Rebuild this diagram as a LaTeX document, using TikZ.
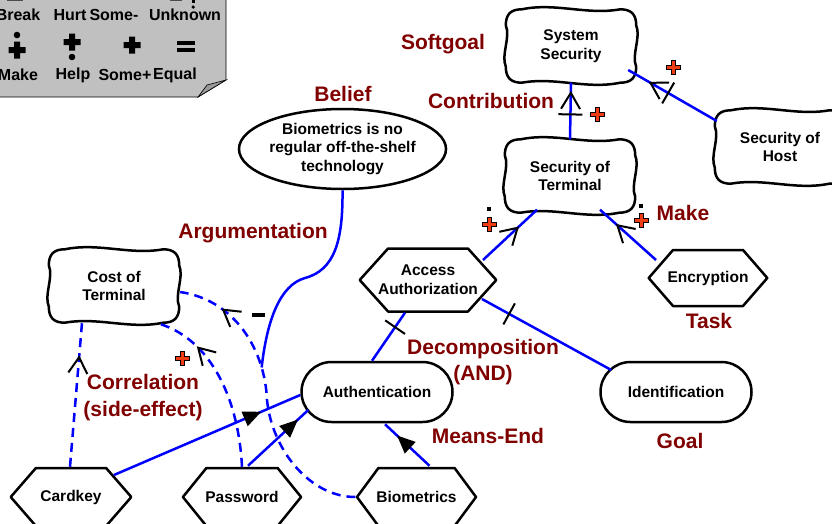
\documentclass[tikz,border=0pt]{standalone}
\usepackage{fontspec}
\setmainfont{Liberation Sans}
\usetikzlibrary{shapes.geometric,shapes.misc,shapes.symbols,arrows.meta,decorations.markings,calc}
\definecolor{labred}{RGB}{128,0,0}
\definecolor{plusred}{RGB}{240,60,20}
\definecolor{leggray}{RGB}{192,192,192}
\definecolor{linkblue}{RGB}{0,0,255}
\newcommand\cloudline[1]{%
 \draw[line width=2.5pt, line join=round, line cap=round]
  ($(#1.north west)+(16,0)$)
  .. controls ($(#1.north west)!.38!(#1.north east)+(0,-7)$) and ($(#1.north west)!.62!(#1.north east)+(0,6)$) .. ($(#1.north east)+(-16,0)$)
  .. controls ($(#1.north east)+(-5,0)$) and ($(#1.north east)+(0,5)$) .. ($(#1.north east)+(0,16)$)
  .. controls ($(#1.north east)!.38!(#1.south east)+(5,0)$) and ($(#1.north east)!.62!(#1.south east)+(-5,0)$) .. ($(#1.south east)+(0,-16)$)
  .. controls ($(#1.south east)+(0,-5)$) and ($(#1.south east)+(-5,0)$) .. ($(#1.south east)+(-16,0)$)
  .. controls ($(#1.south east)!.38!(#1.south west)+(0,7)$) and ($(#1.south east)!.62!(#1.south west)+(0,-6)$) .. ($(#1.south west)+(16,0)$)
  .. controls ($(#1.south west)+(5,0)$) and ($(#1.south west)+(0,-5)$) .. ($(#1.south west)+(0,-16)$)
  .. controls ($(#1.south west)!.38!(#1.north west)+(-5,0)$) and ($(#1.south west)!.62!(#1.north west)+(5,0)$) .. ($(#1.north west)+(0,16)$)
  .. controls ($(#1.north west)+(0,5)$) and ($(#1.north west)+(5,0)$) .. ($(#1.north west)+(16,0)$) -- cycle;}
\tikzset{
 pics/redplus/.style={code={\filldraw[fill=plusred,draw=black,line width=0.7pt]
   (-7,-2) -- (-2,-2) -- (-2,-7) -- (2,-7) -- (2,-2) -- (7,-2) -- (7,2) -- (2,2) -- (2,7) -- (-2,7) -- (-2,2) -- (-7,2) -- cycle;}},
 pics/blackplus/.style={code={\fill[black]
   (-8.5,-3) -- (-3,-3) -- (-3,-8.5) -- (3,-8.5) -- (3,-3) -- (8.5,-3) -- (8.5,3) -- (3,3) -- (3,8.5) -- (-3,8.5) -- (-3,3) -- (-8.5,3) -- cycle;}},
}
\begin{document}
\begin{tikzpicture}[x=1pt,y=-1pt,
  every node/.style={font=\bfseries\fontsize{15.5}{18.6}\selectfont, align=center, inner sep=0pt},
  lab/.style={text=labred, font=\bfseries\fontsize{21}{26}\selectfont},
  leg/.style={font=\bfseries\fontsize{16}{19}\selectfont},
  sg/.style={rectangle, minimum width=130pt, minimum height=73pt},
  hexa/.style={signal, signal to=west and east, draw, line width=2.5pt, line join=round, minimum height=58pt},
  stad/.style={rounded rectangle, draw, line width=2.5pt, minimum width=151pt, minimum height=60pt},
  link/.style={draw=linkblue, line width=2.5pt},
  dlink/.style={link, dash pattern=on 9pt off 6pt},
  chev at/.style={postaction={decorate, decoration={markings, mark=at position #1 with {\draw[black, solid, line width=2pt, line cap=butt, line join=miter] (-16pt,-9.5pt) -- (0pt,0pt) -- (-16pt,9.5pt);}}}},
  bar at/.style={postaction={decorate, decoration={markings, mark=at position #1 with {\draw[black, solid, line width=2pt] (0pt,-12pt) -- (0pt,12pt);}}}},
  tri at/.style={postaction={decorate, decoration={markings, mark=at position #1 with {\fill[black] (0pt,0pt) -- (-18pt,-8pt) -- (-18pt,8pt) -- cycle;}}}},
]
\useasboundingbox (0,0) rectangle (832,523);

% legend
\filldraw[fill=leggray, draw=black, line width=0.8pt] (-5,-5) -- (226,-5) -- (226,80) -- (198,97) -- (-5,97) -- cycle;
\filldraw[fill=gray!80, draw=black, line width=0.6pt] (226,80) -- (198,97) -- (207,85) -- cycle;
\fill[black!70] (7,-1) rectangle (23,1);
\fill[black!70] (170,-1) rectangle (182,1);
\fill[black] (192,-2) rectangle (194.5,3);
\fill[black] (193.2,7) circle (1.8);
\node[leg] (lbreak) at (18,15) {Break};
\node[leg] (lhurt) at (70,15) {Hurt};
\node[leg] (lsomem) at (114,15) {Some-};
\node[leg] (lunk) at (185,15) {Unknown};
\node[leg] (lmake) at (18,75) {Make};
\node[leg] (lhelp) at (73,75) {Help};
\node[leg] (lsomep) at (125,75) {Some+};
\node[leg] (lequal) at (175,75) {Equal};
\fill[black] (17,35) circle (3.3);
\pic at (17,50) {blackplus};
\pic at (72,42) {blackplus};
\fill[black] (72,57) circle (3.3);
\pic at (132,45) {blackplus};
\fill[black] (177,40.5) rectangle (195,45);
\fill[black] (177,47.5) rectangle (195,52);

% nodes
\node[sg] (ss) at (571,46) {System\\Security};
\cloudline{ss}
\node[sg] (sot) at (570,176) {Security of\\Terminal};
\cloudline{sot}
\node[sg] (soh) at (780,147) {Security of\\Host};
\cloudline{soh}
\node[sg] (cot) at (114,286) {Cost of\\Terminal};
\cloudline{cot}
\node[ellipse, draw, line width=2.5pt, minimum width=201pt, minimum height=80pt] (bel) at (342.5,149) {Biometrics is no\\regular off-the-shelf\\technology};
\node[hexa, signal pointer angle=96, inner xsep=-10pt, minimum height=63pt] (aa) at (428,280) {Access\\Authorization};
\node[hexa, signal pointer angle=98, inner xsep=-5.5pt, minimum height=56pt] (enc) at (708,278) {Encryption};
\node[stad] (auth) at (377,392) {Authentication};
\node[stad] (ident) at (676,392) {Identification};
\node[hexa, signal pointer angle=98, inner xsep=4.5pt] (ck) at (71,497) {Cardkey};
\node[hexa, signal pointer angle=102, inner xsep=-1pt] (pw) at (242,497) {Password};
\node[hexa, signal pointer angle=107, inner xsep=-2pt] (bio) at (416.5,497) {Biometrics};

% labels
\node[lab] (lsoft) at (443,44) {Softgoal};
\node[lab] (lcontr) at (491,101) {Contribution};
\node[lab] (lbel) at (343,94) {Belief};
\node[lab] (larg) at (253,233) {Argumentation};
\node[lab] (lmk) at (683,213) {Make};
\node[lab] (ltask) at (709,321) {Task};
\node[lab] (ldec) at (483,362) {Decomposition\\(AND)};
\node[lab] (lgoal) at (680,441) {Goal};
\node[lab] (lme) at (488,436) {Means-End};
\node[lab, font=\bfseries\fontsize{21}{27}\selectfont] (lcor) at (143,398) {Correlation\\(side-effect)};

% contribution links
\draw[link, chev at=0.82, bar at=0.44] (sot.north) -- (ss.south);
\pic at (597,114) {redplus};
\draw[link, chev at=0.75, bar at=0.55] ($(soh.west)+(2,-26)$) -- ($(ss.east)+(-8,24)$);
\pic at (673,67) {redplus};
\draw[link, chev at=0.64] ($(aa.east)+(-15,-20)$) -- ($(sot.south)+(-33,-3)$);
\pic at (489,224) {redplus};
\fill[black] (487,207) rectangle (491,211);
\draw[link, chev at=0.69] ($(enc.west)+(9,-18)$) -- ($(sot.south)+(30,-3)$);
\pic at (641,220) {redplus};
\fill[black] (639,204) rectangle (643,208);

% decomposition links
\draw[link, bar at=0.70] ($(auth.north)+(-5,0)$) -- ($(aa.south)+(-23,0)$);
\draw[link, bar at=0.79] ($(ident.west)+(12,-22)$) -- ($(aa.east)+(-16,19)$);

% means-end links
\draw[link, tri at=0.73] ($(bio.north)+(13,-1)$) -- ($(auth.south)+(8,1)$);
\draw[link, tri at=0.79] ($(ck.east)+(-19,-22)$) -- ($(auth.west)+(0,3)$);
\draw[link, tri at=0.83] ($(pw.north)+(6,-1)$) -- ($(auth.west)+(8,18)$);

% correlation links
\draw[dlink, chev at=0.76] ($(ck.north)+(-1,0)$) -- ($(cot.south)+(-32,0)$);
\draw[dlink, chev at=0.72] (pw.north) .. controls (238,390) and (205,335) .. ($(cot.south east)+(-24,0)$);
\pic at (182,358) {redplus};
\draw[dlink, chev at=0.84] (bio.west) .. controls (310,497) and (272,450) .. (267,400)
   .. controls (265,350) and (235,300) .. coordinate[pos=0.22] (argend) ($(cot.east)+(1,6)$);
\fill[black] (252,313) rectangle (265,317);

% argumentation
\draw[link] (bel.south) .. controls (343,240) and (335,270) .. (305,278) .. controls (280,285) and (267,320) .. (argend);
\end{tikzpicture}
\end{document}
